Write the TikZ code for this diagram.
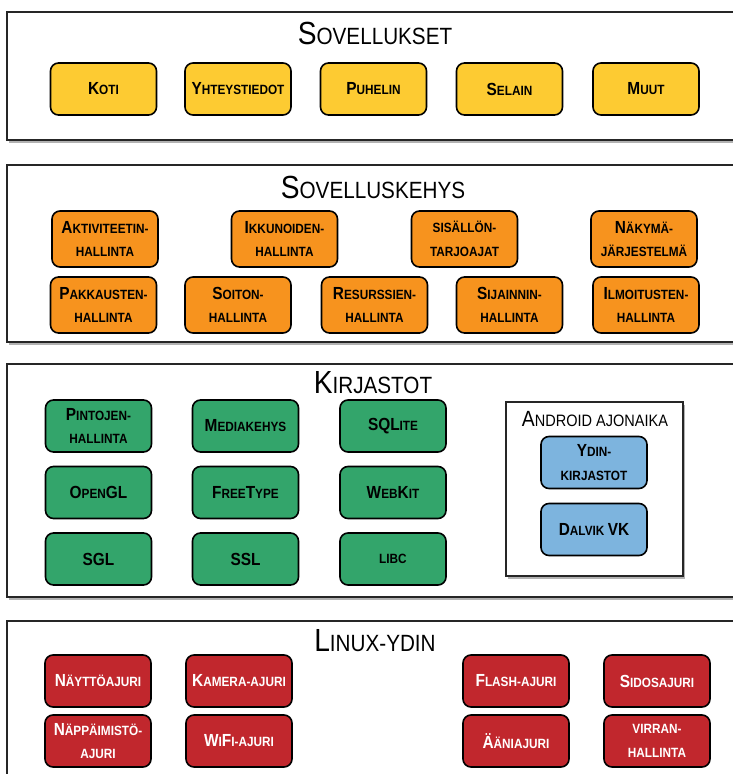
\documentclass[tikz,border=0pt]{standalone}
\usepackage{fontspec}
\setmainfont{Liberation Sans}[FakeStretch=0.88]
\usetikzlibrary{shadows}
\definecolor{cyellow}{HTML}{FDCB32}
\definecolor{corange}{HTML}{F7931E}
\definecolor{cgreen}{HTML}{33A56B}
\definecolor{cblue}{HTML}{7DB4DE}
\definecolor{cred}{HTML}{C1272D}
\newcommand\Bg[1]{{\fontsize{17.5}{23}\selectfont #1}}
\newcommand\Tb[1]{{\fontsize{32}{33}\selectfont #1}}
\newcommand\Ab[1]{{\fontsize{22}{23}\selectfont #1}}
\tikzset{
  section/.style={draw=black!85, line width=2pt, fill=white, rectangle, inner sep=0pt,
    drop shadow={shadow xshift=2pt, shadow yshift=-3pt, fill=black, opacity=0.3}},
  secttitle/.style={font=\fontsize{23.5}{24}\selectfont, inner sep=0pt, anchor=center},
  comp/.style={draw=black, line width=1.6pt, rounded corners=8pt, minimum width=106pt,
    minimum height=52pt, inner sep=0pt, align=center,
    font=\bfseries\fontsize{13.4}{23.5}\selectfont},
  ybox/.style={comp, fill=cyellow},
  obox/.style={comp, fill=corange, minimum height=56pt},
  gbox/.style={comp, fill=cgreen},
  bbox/.style={comp, fill=cblue},
  rbox/.style={comp, fill=cred, text=white},
}
\begin{document}
\begin{tikzpicture}[x=1pt,y=-1pt]
\useasboundingbox (0,0) rectangle (733,774);
\clip (0,0) rectangle (733,774);
\fill[white] (0,0) rectangle (733,774);

% Section 1
\node[section, minimum width=733pt, minimum height=128pt] (s1) at (373.5,76) {};
\node[secttitle] (t1) at (375,33) {\Tb{S}OVELLUKSET};
\node[ybox] (koti) at (103.5,89) {\Bg{K}OTI};
\node[ybox] (yht) at (238,89) {\Bg{Y}HTEYSTIEDOT};
\node[ybox] (puh) at (373.5,89) {\Bg{P}UHELIN};
\node[ybox] (sel) at (509.5,89) {\Bg{S}ELAIN};
\node[ybox] (muut) at (646,89) {\Bg{M}UUT};

% Section 2
\node[section, minimum width=733pt, minimum height=177pt] (s2) at (373.5,253.5) {};
\node[secttitle] (t2) at (373,187) {\Tb{S}OVELLUSKEHYS};
\node[obox] (akt) at (105,239) {\Bg{A}KTIVITEETIN-\\HALLINTA};
\node[obox] (ikk) at (284.5,239) {\Bg{I}KKUNOIDEN-\\HALLINTA};
\node[obox] (sis) at (464.5,239) {SISÄLLÖN-\\TARJOAJAT};
\node[obox] (nak) at (644,239) {\Bg{N}ÄKYMÄ-\\JÄRJESTELMÄ};
\node[obox] (pak) at (103.5,305) {\Bg{P}AKKAUSTEN-\\HALLINTA};
\node[obox] (soi) at (238,305) {\Bg{S}OITON-\\HALLINTA};
\node[obox] (res) at (374.5,305) {\Bg{R}ESURSSIEN-\\HALLINTA};
\node[obox] (sij) at (509.5,305) {\Bg{S}IJAINNIN-\\HALLINTA};
\node[obox] (ilm) at (646,305) {\Bg{I}LMOITUSTEN-\\HALLINTA};

% Section 3
\node[section, minimum width=733pt, minimum height=233pt] (s3) at (373.5,480.5) {};
\node[secttitle] (t3) at (373,383) {\Tb{K}IRJASTOT};
\node[gbox] (pin) at (98.5,426) {\Bg{P}INTOJEN-\\HALLINTA};
\node[gbox] (med) at (245.5,426) {\Bg{M}EDIAKEHYS};
\node[gbox] (sql) at (393,426) {\Bg{SQL}ITE};
\node[gbox] (ogl) at (98.5,492.5) {\Bg{O}PEN\Bg{GL}};
\node[gbox] (fty) at (245.5,492.5) {\Bg{F}REE\Bg{T}YPE};
\node[gbox] (wki) at (393,492.5) {\Bg{W}EB\Bg{K}IT};
\node[gbox] (sgl) at (98.5,559) {\Bg{SGL}};
\node[gbox] (ssl) at (245.5,559) {\Bg{SSL}};
\node[gbox] (libc) at (393,559) {LIBC};
\node[section, minimum width=177pt, minimum height=174pt] (and) at (594.5,489) {};
\node[inner sep=0pt, font=\fontsize{16.5}{18}\selectfont] (tand) at (595,419) {\Ab{A}NDROID AJONAIKA};
\node[bbox] (ydin) at (594,462.5) {\Bg{Y}DIN-\\KIRJASTOT};
\node[bbox] (dal) at (594,529.5) {\Bg{D}ALVIK \Bg{VK}};

% Section 4
\node[section, minimum width=733pt, minimum height=169pt] (s4) at (373.5,705.5) {};
\node[secttitle] (t4) at (375,641) {\Tb{L}INUX-YDIN};
\node[rbox] (nay) at (98,681) {\Bg{N}ÄYTTÖAJURI};
\node[rbox] (kam) at (239,681) {\Bg{K}AMERA-AJURI};
\node[rbox] (fla) at (516,681) {\Bg{F}LASH-AJURI};
\node[rbox] (sid) at (657,681) {\Bg{S}IDOSAJURI};
\node[rbox] (nap) at (98,741) {\Bg{N}ÄPPÄIMISTÖ-\\AJURI};
\node[rbox] (wifi) at (239,741) {\Bg{W}I\Bg{F}I-AJURI};
\node[rbox] (aan) at (516,741) {\Bg{Ä}ÄNIAJURI};
\node[rbox] (vir) at (657,741) {VIRRAN-\\HALLINTA};
\end{tikzpicture}
\end{document}
